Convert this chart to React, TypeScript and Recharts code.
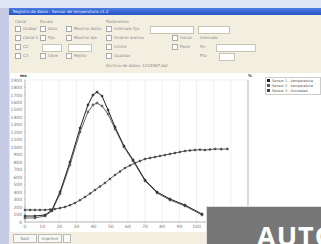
import { LineChart, Line, XAxis, YAxis, CartesianGrid } from "recharts";

// times (x) and readings for each trace
const bellTimes = [0, 5.8, 11.7, 15.7, 20.4, 26.2, 32.1, 36.7, 39.6, 42, 44.9, 48.4, 52.5, 57.7, 63, 70, 77, 84.5, 93.3, 103.2];
const bellUpper = [80, 80, 94, 160, 401, 803, 1258, 1566, 1699, 1739, 1686, 1499, 1271, 1017, 830, 562, 401, 308, 227, 107];
const bellLower = [54, 54, 80, 147, 375, 763, 1204, 1472, 1566, 1592, 1552, 1445, 1244, 1004, 816, 549, 388, 294, 214, 94];

const sTimes = [0, 3, 5.8, 8.7, 11.7, 14.6, 17.5, 20.4, 23.3, 26.2, 29.1, 32, 35, 38, 40.8, 43.7, 46.6, 49.5, 52.5, 55.4, 58.3, 61.2, 64.1, 67, 70, 72.9, 75.8, 78.7, 81.6, 84.5, 87.4, 90.3, 93.3, 96.2, 99.1, 102, 104.9, 107.8, 110.8, 114.4, 118];
const sValues = [161, 161, 161, 161, 161, 167, 174, 186, 201, 225, 254, 292, 335, 381, 428, 475, 522, 576, 629, 676, 723, 756, 789, 816, 843, 857, 870, 883, 896, 910, 923, 936, 950, 957, 963, 968, 963, 970, 977, 975, 977];

const xTicks = [0, 10, 20, 30, 40, 50, 60, 70, 80, 90, 100, 110, 120, 130];
const leftTicks = [0, 100, 200, 300, 400, 500, 600, 700, 800, 900, 1000, 1100, 1200, 1300, 1400, 1500, 1600, 1700, 1800, 1900];
const rightTicks = [0, 5, 10, 15, 20, 25, 30, 35, 40, 45, 50, 55, 60, 65, 70, 75, 80, 85, 90, 95];

const legendItems = ["Sensor 1 - temperatura", "Sensor 2 - temperatura", "Sensor 3 - humedad"];

const upperData = bellTimes.map((t, i) => ({ t, v: bellUpper[i] }));
const lowerData = bellTimes.map((t, i) => ({ t, v: bellLower[i] }));
const sData = sTimes.map((t, i) => ({ t, v: sValues[i] }));

const tiny = { fontSize: 4.5, fill: "#777" };

type Item = [number, string, ("box" | "chk" | "txt")?, number?];

function Row({ top, items }: { top: number; items: Item[] }) {
  return (
    <>
      {items.map(([x, txt, kind = "chk", w = 0], i) =>
        kind === "box" ? (
          <div key={i} style={{ position: "absolute", left: x, top: top - 3, width: w, height: 6, background: "#fff", border: "1px solid #c8c4b4" }} />
        ) : (
          <div key={i} style={{ position: "absolute", left: x, top: top - 3, fontSize: 4, lineHeight: "6px", color: "#888", whiteSpace: "nowrap" }}>
            {kind === "chk" && (
              <span style={{ display: "inline-block", width: 4, height: 4, border: "1px solid #aaa", background: "#fff", marginRight: 2, verticalAlign: "middle" }} />
            )}
            {txt}
          </div>
        )
      )}
    </>
  );
}

export default function App() {
  return (
    <div style={{ position: "absolute", left: 0, top: 0, width: 321, height: 244, overflow: "hidden", background: "#dfe6f4", fontFamily: "Tahoma, 'DejaVu Sans', sans-serif" }}>
      <div style={{ position: "absolute", left: 0, top: 8, width: 9, height: 236, background: "#c6cce6" }} />
      {/* title bar */}
      <div style={{ position: "absolute", left: 9, top: 8, width: 312, height: 7, background: "linear-gradient(#4c7be0, #2556c8)" }}>
        <span style={{ position: "absolute", left: 4, top: 0, fontSize: 4, lineHeight: "7px", color: "#e8eeff" }}>Registro de datos - Sensor de temperatura v1.2</span>
      </div>
      {/* controls */}
      <div style={{ position: "absolute", left: 9, top: 15, width: 312, height: 58, background: "#f2efe1" }} />
      <Row top={22} items={[[15, "Canal", "txt"], [40, "Escala", "txt"], [106, "Parámetros", "txt"]]} />
      <Row top={29} items={[[15, "Grabar"], [40, "Auto"], [66, "Mostrar datos"], [106, "Intervalo fijo"], [150, "", "box", 42], [198, "", "box", 30]]} />
      <Row top={38} items={[[15, "Canal 1"], [40, "Fijo"], [66, "Mostrar eje"], [106, "Umbral alarma"], [172, "Iniciar"], [200, "Intervalo", "txt"]]} />
      <Row top={47} items={[[15, "C2"], [42, "", "box", 18], [68, "", "box", 22], [106, "Límite"], [172, "Parar"], [200, "Fin", "txt"], [216, "", "box", 38]]} />
      <Row top={56} items={[[15, "C3"], [40, "Libre"], [66, "Rejilla"], [106, "Guardar"], [200, "Pto", "txt"], [219, "", "box", 14]]} />
      <div style={{ position: "absolute", left: 106, top: 63, fontSize: 4, lineHeight: "6px", color: "#888" }}>Archivo de datos: 1234567.dat</div>
      {/* chart panel */}
      <div style={{ position: "absolute", left: 10, top: 73, width: 311, height: 159, background: "#fff" }} />
      <div style={{ position: "absolute", left: 20, top: 73, fontSize: 4, fontWeight: "bold", color: "#333" }}>ms</div>
      <div style={{ position: "absolute", left: 248, top: 73, fontSize: 4, fontWeight: "bold", color: "#333" }}>%</div>
      <div style={{ position: "absolute", left: 0, top: 70 }}>
        <LineChart width={321} height={162} margin={{ top: 10, right: 53, bottom: 0, left: 8 }}>
          <CartesianGrid stroke="#e6e6e6" strokeWidth={0.6} />
          <XAxis dataKey="t" type="number" domain={[0, 130]} ticks={xTicks} height={10} tick={tiny} tickSize={1} stroke="#bbb" interval={0} allowDuplicatedCategory={false} />
          <YAxis yAxisId="l" domain={[0, 1900]} ticks={leftTicks} width={17} tick={tiny} tickSize={1} stroke="#bbb" interval={0} />
          <YAxis yAxisId="r" orientation="right" domain={[0, 95]} ticks={rightTicks} width={20} tick={tiny} tickSize={1} stroke="#bbb" interval={0} />
          <Line yAxisId="l" data={sData} dataKey="v" stroke="#444" strokeWidth={0.9} isAnimationActive={false}
            dot={{ r: 1, fill: "#555", stroke: "#333", strokeWidth: 0.5 }} />
          <Line yAxisId="l" data={lowerData} dataKey="v" stroke="#555" strokeWidth={0.9} isAnimationActive={false}
            dot={{ r: 1.1, fill: "#777", stroke: "#444", strokeWidth: 0.5 }} />
          <Line yAxisId="l" data={upperData} dataKey="v" stroke="#222" strokeWidth={1} isAnimationActive={false}
            dot={{ r: 1.1, fill: "#444", stroke: "#222", strokeWidth: 0.5 }} />
        </LineChart>
      </div>
      {/* legend */}
      <div style={{ position: "absolute", left: 265, top: 77, width: 54, height: 16, border: "1px solid #ccc", background: "#fff" }}>
        {legendItems.map((s, i) => (
          <div key={s} style={{ display: "flex", alignItems: "center", height: 5, fontSize: 3.5, color: "#555", whiteSpace: "nowrap" }}>
            <span style={{ display: "inline-block", width: 3, height: 3, background: ["#222", "#555", "#444"][i], margin: "0 2px 0 1px" }} />
            {s}
          </div>
        ))}
      </div>
      {/* bottom bar */}
      <div style={{ position: "absolute", left: 9, top: 232, width: 312, height: 12, background: "#f2efe1" }} />
      <div style={{ position: "absolute", left: 13, top: 234, width: 22, height: 7, border: "1px solid #bbb", background: "#f8f8f4", fontSize: 4, lineHeight: "7px", textAlign: "center", color: "#777" }}>Salir</div>
      <div style={{ position: "absolute", left: 38, top: 234, width: 22, height: 7, border: "1px solid #bbb", background: "#f8f8f4", fontSize: 4, lineHeight: "7px", textAlign: "center", color: "#777" }}>Imprimir</div>
      <div style={{ position: "absolute", left: 63, top: 234, width: 6, height: 7, border: "1px solid #bbb", background: "#f8f8f4" }} />
      {/* AUTO badge */}
      <div style={{ position: "absolute", left: 206, top: 206, width: 120, height: 40, background: "#777", border: "1px solid #ddd", overflow: "hidden" }}>
        <div style={{ position: "absolute", left: 50, top: 15, fontSize: 27, fontWeight: "bold", color: "#fff", fontFamily: "'Open Sans', 'DejaVu Sans', sans-serif", lineHeight: "27px", letterSpacing: 1 }}>AUTO</div>
      </div>
    </div>
  );
}
